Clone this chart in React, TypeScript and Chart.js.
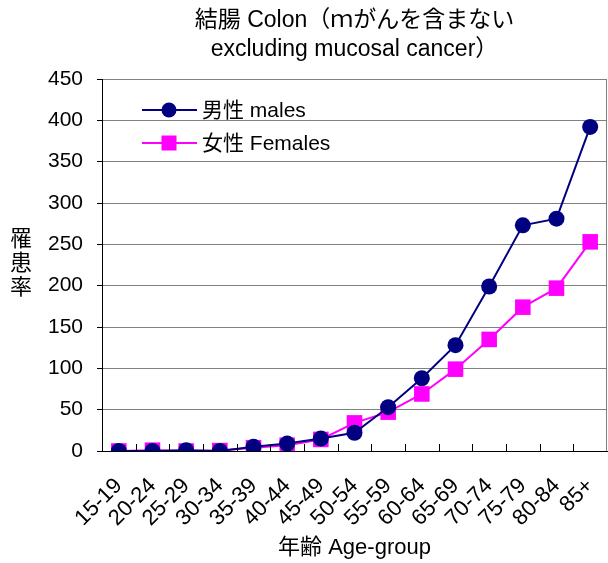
import React, { useEffect, useRef } from "react";
import { Chart, registerables } from "chart.js";

Chart.register(...registerables);

const ageGroups = ["15-19", "20-24", "25-29", "30-34", "35-39", "40-44", "45-49", "50-54", "55-59", "60-64", "65-69", "70-74", "75-79", "80-84", "85+"];
const males = [0, 0, 1, 0, 5, 9, 15, 22, 53, 88, 128, 199, 273, 281, 392];
const females = [0, 1, 0, 0.5, 4, 7, 14, 34, 47, 69, 99, 135, 174, 197, 253];
const yTicks = [0, 50, 100, 150, 200, 250, 300, 350, 400, 450];

const titleLines = ["結腸 Colon（ｍがんを含まない", "excluding mucosal cancer）"];
const yTitle = ["罹", "患", "率"];
const xTitle = "年齢 Age-group";
const legendLabels = ["男性 males", "女性 Females"];

const FONT = "'Liberation Sans', 'Noto Sans CJK JP', sans-serif";
const NAVY = "#000080";
const MAGENTA = "#FF00FF";

const decorPlugin = {
  id: "decor",
  afterDraw(chart: any) {
    const ctx = chart.ctx;
    const area = chart.chartArea;
    const cx = (area.left + area.right) / 2;
    ctx.save();
    ctx.fillStyle = "#000";
    ctx.textAlign = "center";
    ctx.textBaseline = "middle";
    ctx.font = `23px ${FONT}`;
    ctx.fillText(titleLines[0], cx, 21);
    ctx.fillText(titleLines[1], cx, 50);

    ctx.font = `22px ${FONT}`;
    yTitle.forEach((c, i) => ctx.fillText(c, 21, 240 + i * 24));

    ctx.font = `22px ${FONT}`;
    ctx.fillText(xTitle, cx, 548);

    // right border
    ctx.strokeStyle = "#808080";
    ctx.lineWidth = 1;
    ctx.beginPath();
    ctx.moveTo(area.right - 0.5, area.top);
    ctx.lineTo(area.right - 0.5, area.bottom);
    ctx.stroke();

    // inner x ticks
    const n = ageGroups.length;
    const step = (area.right - area.left) / n;
    ctx.strokeStyle = "#000";
    ctx.beginPath();
    for (let k = 1; k < n; k++) {
      const x = Math.round(area.left + k * step) + 0.5;
      ctx.moveTo(x, area.bottom);
      ctx.lineTo(x, area.bottom - 7);
    }
    ctx.stroke();

    // legend
    const items = [
      { label: legendLabels[0], color: NAVY, style: "circle", y: 110 },
      { label: legendLabels[1], color: MAGENTA, style: "rect", y: 143 },
    ];
    items.forEach((it) => {
      ctx.strokeStyle = it.color;
      ctx.fillStyle = it.color;
      ctx.lineWidth = 2;
      ctx.beginPath();
      ctx.moveTo(142, it.y);
      ctx.lineTo(197, it.y);
      ctx.stroke();
      if (it.style === "circle") {
        ctx.beginPath();
        ctx.arc(169, it.y, 7.5, 0, Math.PI * 2);
        ctx.fill();
      } else {
        ctx.fillRect(169 - 7.5, it.y - 7.5, 15, 15);
      }
      ctx.fillStyle = "#000";
      ctx.textAlign = "left";
      ctx.font = `21px ${FONT}`;
      ctx.fillText(it.label, 202, it.y + 1);
    });
    ctx.restore();
  },
};

export default function App() {
  const ref = useRef<HTMLCanvasElement | null>(null);
  useEffect(() => {
    if (!ref.current) return;
    const chart = new Chart(ref.current, {
      type: "line",
      data: {
        labels: ageGroups,
        datasets: [
          {
            label: legendLabels[0],
            data: males,
            borderColor: NAVY,
            backgroundColor: NAVY,
            borderWidth: 2,
            pointStyle: "circle",
            pointRadius: 8,
            pointBorderWidth: 0,
          },
          {
            label: legendLabels[1],
            data: females,
            borderColor: MAGENTA,
            backgroundColor: MAGENTA,
            borderWidth: 2,
            pointStyle: "rect",
            pointRadius: 11,
            pointBorderWidth: 0,
          },
        ],
      },
      options: {
        animation: false,
        responsive: true,
        maintainAspectRatio: false,
        layout: { autoPadding: false, padding: { top: 79, right: 1, left: 0, bottom: 0 } },
        plugins: {
          legend: { display: false },
          title: { display: false },
          tooltip: { enabled: false },
        },
        scales: {
          x: {
            type: "category",
            offset: true,
            grid: { display: false, drawOnChartArea: false, drawTicks: false, offset: true },
            border: { display: true, color: "#000", width: 1 },
            ticks: {
              autoSkip: false,
              maxRotation: 45,
              minRotation: 45,
              padding: 22,
              color: "#000",
              font: { family: FONT, size: 22 },
            },
            afterFit(scale: any) {
              scale.height = 112;
              scale.paddingLeft = 0;
              scale.paddingRight = 0;
              scale.getPadding = () => ({ left: 0, right: 0, top: 0, bottom: 0 });
            },
          },
          y: {
            min: 0,
            max: 450,
            afterBuildTicks(scale: any) {
              scale.ticks = yTicks.map((v) => ({ value: v }));
            },
            grid: { color: "#808080", tickColor: "#000", tickLength: 5, drawTicks: true },
            border: { display: true, color: "#000", width: 1 },
            ticks: {
              padding: 14,
              color: "#000",
              font: { family: FONT, size: 21 },
            },
            afterFit(scale: any) {
              scale.width = 102;
              scale.getPadding = () => ({ left: 0, right: 0, top: 0, bottom: 0 });
            },
          },
        },
      },
      plugins: [decorPlugin],
    });
    return () => chart.destroy();
  }, []);
  return (
    <div style={{ position: "absolute", left: 0, top: 0, width: 608, height: 563, background: "#fff" }}>
      <canvas ref={ref} />
    </div>
  );
}
